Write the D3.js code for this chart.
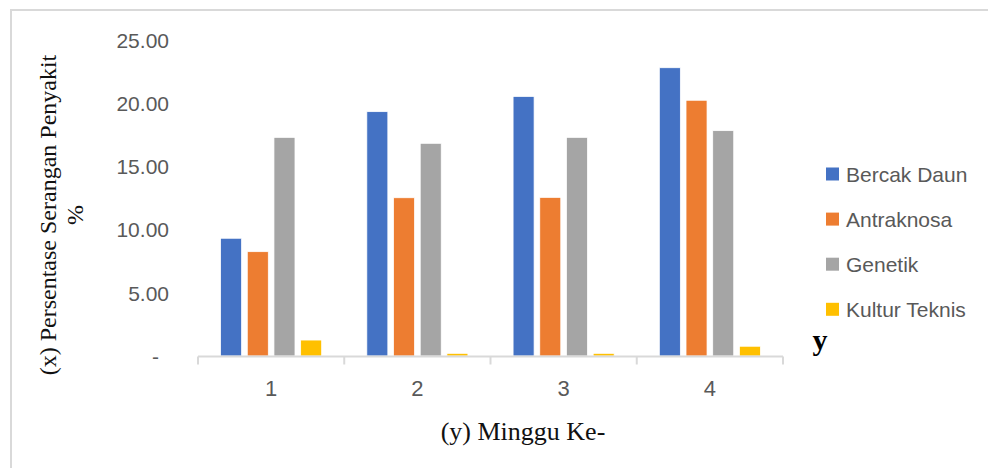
<!DOCTYPE html>
<html>
<head>
<meta charset="utf-8">
<script src="https://cdn.jsdelivr.net/npm/d3@7"></script>
<style>
  body { margin: 0; background: #fff; }
  svg { display: block; }
</style>
</head>
<body>
<div id="chartContainer"></div>
<script>
// data
var weeks = ["1", "2", "3", "4"];
var seriesNames = ["Bercak Daun", "Antraknosa", "Genetik", "Kultur Teknis"];
var bercakDaun = [9.30, 19.30, 20.50, 22.77];
var antraknosa = [8.24, 12.50, 12.53, 20.20];
var genetik = [17.27, 16.80, 17.27, 17.80];
var kulturTeknis = [1.26, 0.21, 0.21, 0.77];
var yTicks = [0, 5, 10, 15, 20, 25];
var colors = ["#4472C4", "#ED7D31", "#A5A5A5", "#FFC000"];

var seriesValues = [bercakDaun, antraknosa, genetik, kulturTeknis];

var WIDTH = 988, HEIGHT = 468;
var svg = d3.select("#chartContainer").append("svg")
  .attr("width", WIDTH)
  .attr("height", HEIGHT);

// chart frame (only top + left edge visible)
svg.append("rect")
  .attr("x", 11).attr("y", 10)
  .attr("width", 1000).attr("height", 500)
  .attr("fill", "#fff")
  .attr("stroke", "#d9d9d9")
  .attr("stroke-width", 2);

var x0 = d3.scaleBand().domain(weeks).range([198, 783]);
var x1 = d3.scaleBand().domain(seriesNames)
  .range([0, x0.bandwidth()])
  .paddingInner(0.213)
  .paddingOuter(0.846);
var y = d3.scaleLinear().domain([0, 25]).range([356, 39.5]);

// y axis labels only
var yAxis = d3.axisLeft(y)
  .tickValues(yTicks)
  .tickSize(0)
  .tickFormat(function (d) { return d === 0 ? "-" : d3.format(".2f")(d); });

var gy = svg.append("g")
  .attr("transform", "translate(177,0)")
  .call(yAxis);
gy.select(".domain").remove();
gy.selectAll("text")
  .attr("x", -8)
  .attr("dy", "0.36em")
  .style("font-family", "'Liberation Sans', Arial, sans-serif")
  .style("font-size", "21px")
  .attr("fill", "#595959");
gy.selectAll(".tick").filter(function (d) { return d === 0; })
  .select("text").attr("x", -18);

// bars
var groups = svg.append("g").selectAll("g")
  .data(weeks)
  .enter().append("g")
  .attr("transform", function (d) { return "translate(" + x0(d) + ",0)"; });

groups.selectAll("rect")
  .data(function (d, i) {
    return seriesNames.map(function (s, j) { return { s: s, v: seriesValues[j][i], j: j }; });
  })
  .enter().append("rect")
  .attr("x", function (d) { return x1(d.s); })
  .attr("y", function (d) { return y(d.v); })
  .attr("width", x1.bandwidth())
  .attr("height", function (d) { return y(0) - y(d.v); })
  .attr("fill", function (d) { return colors[d.j]; })
  .attr("stroke", "#fff")
  .attr("stroke-width", 0.75);

// x axis
var xAxis = d3.axisBottom(x0).tickSize(0).tickPadding(0);
var gx = svg.append("g")
  .attr("transform", "translate(0," + 356.5 + ")")
  .call(xAxis);
gx.select(".domain").remove();
gx.append("line")
  .attr("x1", 198).attr("x2", 783)
  .attr("stroke", "#d9d9d9").attr("stroke-width", 2);
gx.selectAll(".sep")
  .data(weeks.concat(["end"]))
  .enter().append("line")
  .attr("x1", function (d) { return d === "end" ? x0.range()[1] : x0(d); })
  .attr("x2", function (d) { return d === "end" ? x0.range()[1] : x0(d); })
  .attr("y1", 0).attr("y2", 8)
  .attr("stroke", "#d9d9d9").attr("stroke-width", 2);
gx.selectAll(".tick text")
  .attr("y", 39)
  .attr("dy", 0)
  .style("font-family", "'Liberation Sans', Arial, sans-serif")
  .style("font-size", "22px")
  .attr("fill", "#595959");

// axis titles
svg.append("text")
  .attr("transform", "translate(56,215) rotate(-90)")
  .attr("text-anchor", "middle")
  .style("font-family", "'Liberation Serif', 'Times New Roman', serif")
  .style("font-size", "24px")
  .attr("fill", "#111")
  .text("(x) Persentase Serangan Penyakit");
svg.append("text")
  .attr("transform", "translate(83,215) rotate(-90)")
  .attr("text-anchor", "middle")
  .style("font-family", "'Liberation Serif', 'Times New Roman', serif")
  .style("font-size", "24px")
  .attr("fill", "#111")
  .text("%");

svg.append("text")
  .attr("x", 523).attr("y", 440)
  .attr("text-anchor", "middle")
  .style("font-family", "'Liberation Serif', 'Times New Roman', serif")
  .style("font-size", "26px")
  .attr("fill", "#111")
  .text("(y) Minggu Ke-");

svg.append("text")
  .attr("x", 820).attr("y", 350)
  .attr("text-anchor", "middle")
  .style("font-family", "'Liberation Serif', 'Times New Roman', serif")
  .style("font-size", "30px")
  .style("font-weight", "bold")
  .attr("fill", "#000")
  .text("y");

// legend
var legend = svg.append("g").selectAll("g")
  .data(seriesNames)
  .enter().append("g")
  .attr("transform", function (d, i) { return "translate(826," + (174 + i * 45.1) + ")"; });
legend.append("rect")
  .attr("x", 0).attr("y", -6.5)
  .attr("width", 13).attr("height", 13)
  .attr("fill", function (d, i) { return colors[i]; });
legend.append("text")
  .attr("x", 20).attr("dy", "0.36em")
  .style("font-family", "'Liberation Sans', Arial, sans-serif")
  .style("font-size", "21px")
  .attr("fill", "#595959")
  .text(function (d) { return d; });
</script>
</body>
</html>
